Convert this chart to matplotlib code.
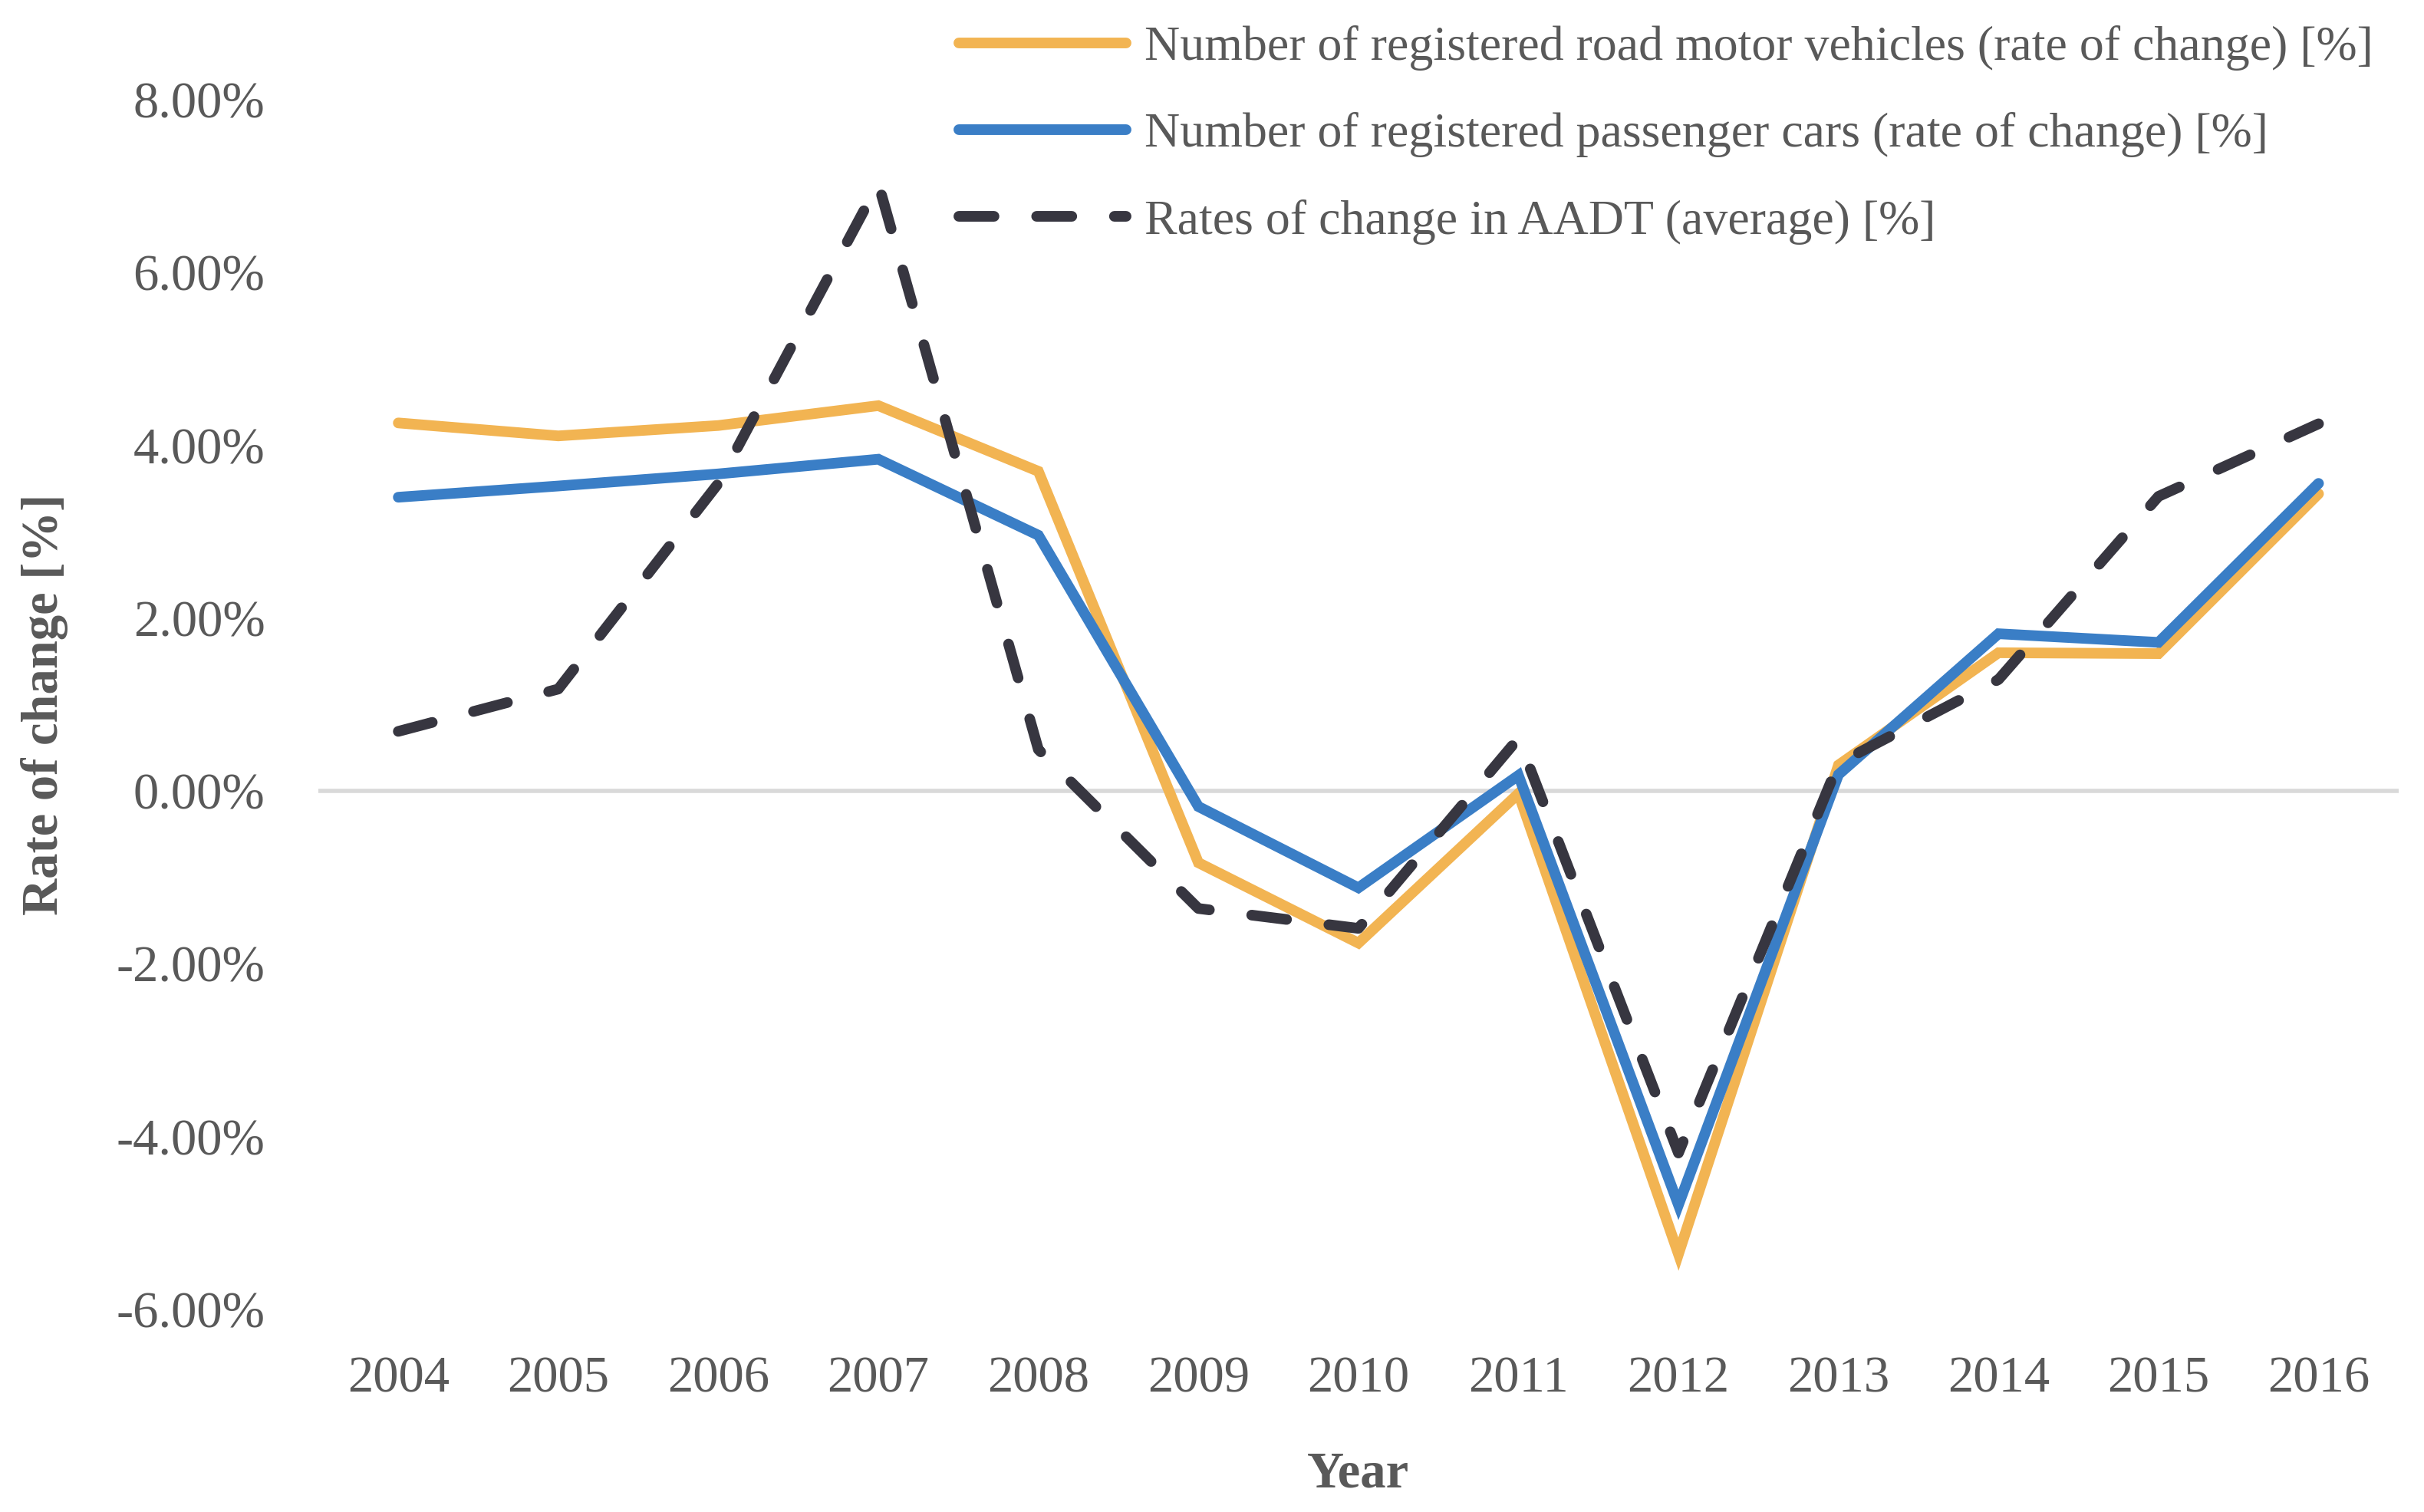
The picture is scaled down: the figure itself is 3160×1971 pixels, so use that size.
import numpy as np
import matplotlib
matplotlib.use("Agg")
import matplotlib.pyplot as plt

years = ["2004", "2005", "2006", "2007", "2008", "2009", "2010",
         "2011", "2012", "2013", "2014", "2015", "2016"]
road_motor_vehicles = [4.26, 4.11, 4.23, 4.46, 3.70, -0.83, -1.76,
                       -0.03, -5.36, 0.30, 1.60, 1.59, 3.44]
passenger_cars = [3.40, 3.53, 3.67, 3.84, 2.96, -0.18, -1.12,
                  0.18, -4.79, 0.19, 1.82, 1.72, 3.56]
aadt = [0.69, 1.18, 3.56, 7.03, 0.48, -1.36, -1.59,
        0.61, -4.19, 0.32, 1.29, 3.41, 4.25]
labels = ["Number of registered road motor vehicles (rate of change) [%]",
          "Number of registered passenger cars (rate of change) [%]",
          "Rates of change in AADT (average) [%]"]
yticks = [-6, -4, -2, 0, 2, 4, 6, 8]

FONT = ["Liberation Serif", "DejaVu Serif"]
TXT = "#595959"
plt.rcParams["font.family"] = FONT

fig = plt.figure(figsize=(15.8, 9.855), dpi=200)
ax = fig.add_axes([0.1313, 0.1340, 0.8582, 0.8000])

x = np.arange(len(years))
ax.axhline(0, color="#D9D9D9", lw=2.0, zorder=1)
ax.plot(x, road_motor_vehicles, color="#F2B452", lw=5, solid_capstyle="round",
        solid_joinstyle="miter", label=labels[0], zorder=3)
ax.plot(x, passenger_cars, color="#3A7EC6", lw=5, solid_capstyle="round",
        solid_joinstyle="miter", label=labels[1], zorder=4)
ln, = ax.plot(x, aadt, color="#373640", lw=5, dash_capstyle="round",
              dash_joinstyle="round", label=labels[2], zorder=5)
ln.set_dashes([3.3, 4.0])

ax.set_xlim(-0.5, len(years) - 0.5)
ax.set_ylim(-6, 8)
ax.set_xticks(x)
ax.set_xticklabels(years)
ax.set_yticks(yticks)
ax.set_yticklabels([f"{v:.2f}%" for v in yticks])
ax.tick_params(axis="both", length=0, labelsize=24, colors=TXT)
ax.tick_params(axis="x", pad=22)
ax.tick_params(axis="y", pad=25)
for s in ax.spines.values():
    s.set_visible(False)

ax.set_xlabel("Year", fontsize=24, fontweight="bold", color=TXT, va="top")
ax.xaxis.set_label_coords(0.5, -0.117)
ax.set_ylabel("Rate of change [%]", fontsize=24, fontweight="bold", color=TXT)
ax.yaxis.set_label_coords(-0.120, 0.5)

leg = ax.legend(loc="upper left", bbox_to_anchor=(1250 / 3160, 1 - 33 / 1971),
                bbox_transform=fig.transFigure, frameon=False, fontsize=23,
                borderpad=0, borderaxespad=0, handlelength=3.41,
                handletextpad=0.37, labelspacing=0.85)
for t in leg.get_texts():
    t.set_color(TXT)

fig.savefig("out.png", dpi=200)
